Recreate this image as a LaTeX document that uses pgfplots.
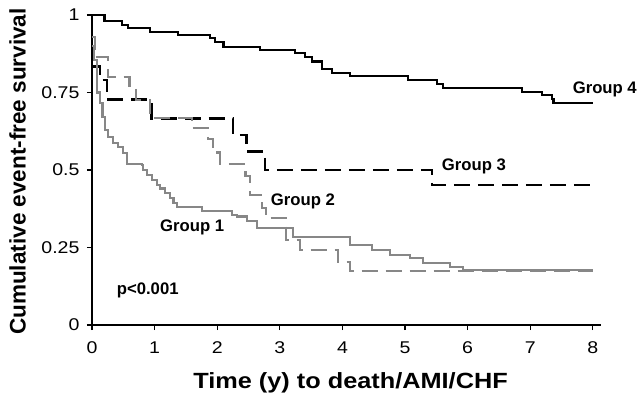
\documentclass[border=0pt]{standalone}
\usepackage{fontspec}
\setmainfont{Liberation Sans}
\newfontfamily\wide[FakeStretch=1.15]{Liberation Sans}
\usepackage{pgfplots}
\pgfplotsset{compat=1.18}
\definecolor{grp}{RGB}{135,135,135}
\begin{document}
\begin{tikzpicture}
\path[use as bounding box] (0,0) rectangle (644pt,401pt);
\begin{axis}[
  at={(92pt,76pt)}, anchor=south west,
  scale only axis, width=509pt, height=310pt,
  xmin=0, xmax=8.13, ymin=0, ymax=1,
  axis x line*=bottom, axis y line*=left,
  axis line style={line width=2.4pt, black},
  xtick={0,1,2,3,4,5,6,7,8},
  ytick={0,0.25,0.5,0.75,1},
  tick align=outside, major tick length=5pt,
  tick style={line width=1.2pt, black},
  ticklabel style={font=\wide\fontsize{17}{17}\selectfont},
  xticklabel style={yshift=-8pt},
  yticklabel style={xshift=-4pt},
  /pgf/number format/assume math mode=true,
  clip=false,
]
% Group 4
\addplot[const plot, black, line width=2.2pt] coordinates {
(0,1.0) (0.2,0.98) (0.48,0.968) (0.58,0.958) (0.93,0.945) (1.37,0.935)
(1.88,0.925) (1.96,0.913) (2.1,0.897) (2.68,0.887) (3.24,0.877) (3.4,0.864)
(3.51,0.85) (3.67,0.826) (3.83,0.813) (4.12,0.803) (5.05,0.79) (5.51,0.777)
(5.6,0.764) (6.87,0.752) (7.19,0.742) (7.35,0.729) (7.37,0.716) (8.0,0.716)};
% Group 3
\addplot[const plot, black, line width=2.6pt, dash pattern=on 16pt off 8pt] coordinates {
(0,0.833) (0.13,0.79) (0.24,0.728) (0.95,0.667) (2.25,0.613) (2.47,0.56)
(2.76,0.5) (5.43,0.452) (8.0,0.452)};
% Group 2
\addplot[const plot, grp, line width=2.3pt, dash pattern=on 16pt off 8pt] coordinates {
(0,0.93) (0.05,0.865) (0.25,0.8) (0.6,0.762) (0.7,0.726) (0.93,0.667)
(1.6,0.635) (1.85,0.6) (1.93,0.556) (2.05,0.52) (2.45,0.48) (2.52,0.42)
(2.72,0.378) (2.78,0.345) (3.1,0.274) (3.32,0.242) (3.93,0.203) (4.12,0.174) (8.0,0.174)};
% Group 1
\addplot[const plot, grp, line width=2.3pt] coordinates {
(0,0.9) (0.03,0.855) (0.08,0.75) (0.13,0.716) (0.17,0.67) (0.21,0.63)
(0.26,0.606) (0.34,0.587) (0.42,0.574) (0.5,0.555) (0.56,0.52) (0.8,0.516)
(0.82,0.5) (0.88,0.484) (0.96,0.468) (1.04,0.452) (1.09,0.44) (1.17,0.425)
(1.25,0.41) (1.3,0.393) (1.36,0.38) (1.76,0.368) (2.24,0.355) (2.32,0.35)
(2.48,0.335) (2.64,0.313) (3.21,0.284) (4.12,0.258) (4.47,0.242) (4.76,0.226)
(5.08,0.216) (5.29,0.2) (5.72,0.187) (5.93,0.177) (8.0,0.177)};
\node[font=\bfseries\fontsize{16.7}{17}\selectfont] at (axis cs:8.19,0.761) {Group 4};
\node[font=\bfseries\fontsize{16.7}{17}\selectfont] at (axis cs:6.10,0.513) {Group 3};
\node[font=\bfseries\fontsize{16.7}{17}\selectfont] at (axis cs:3.37,0.40) {Group 2};
\node[font=\bfseries\fontsize{16.7}{17}\selectfont] at (axis cs:1.60,0.316) {Group 1};
\node[font=\bfseries\fontsize{16.7}{17}\selectfont] at (axis cs:0.89,0.113) {p<0.001};
\node[font=\wide\bfseries\fontsize{22}{22}\selectfont] at ([yshift=-58pt]rel axis cs:0.508,0) {Time (y) to death/AMI/CHF};
\node[rotate=90, font=\bfseries\fontsize{22.5}{22.5}\selectfont] at ([xshift=-74.5pt]rel axis cs:0,0.495) {Cumulative event-free survival};
\end{axis}
\end{tikzpicture}
\end{document}
